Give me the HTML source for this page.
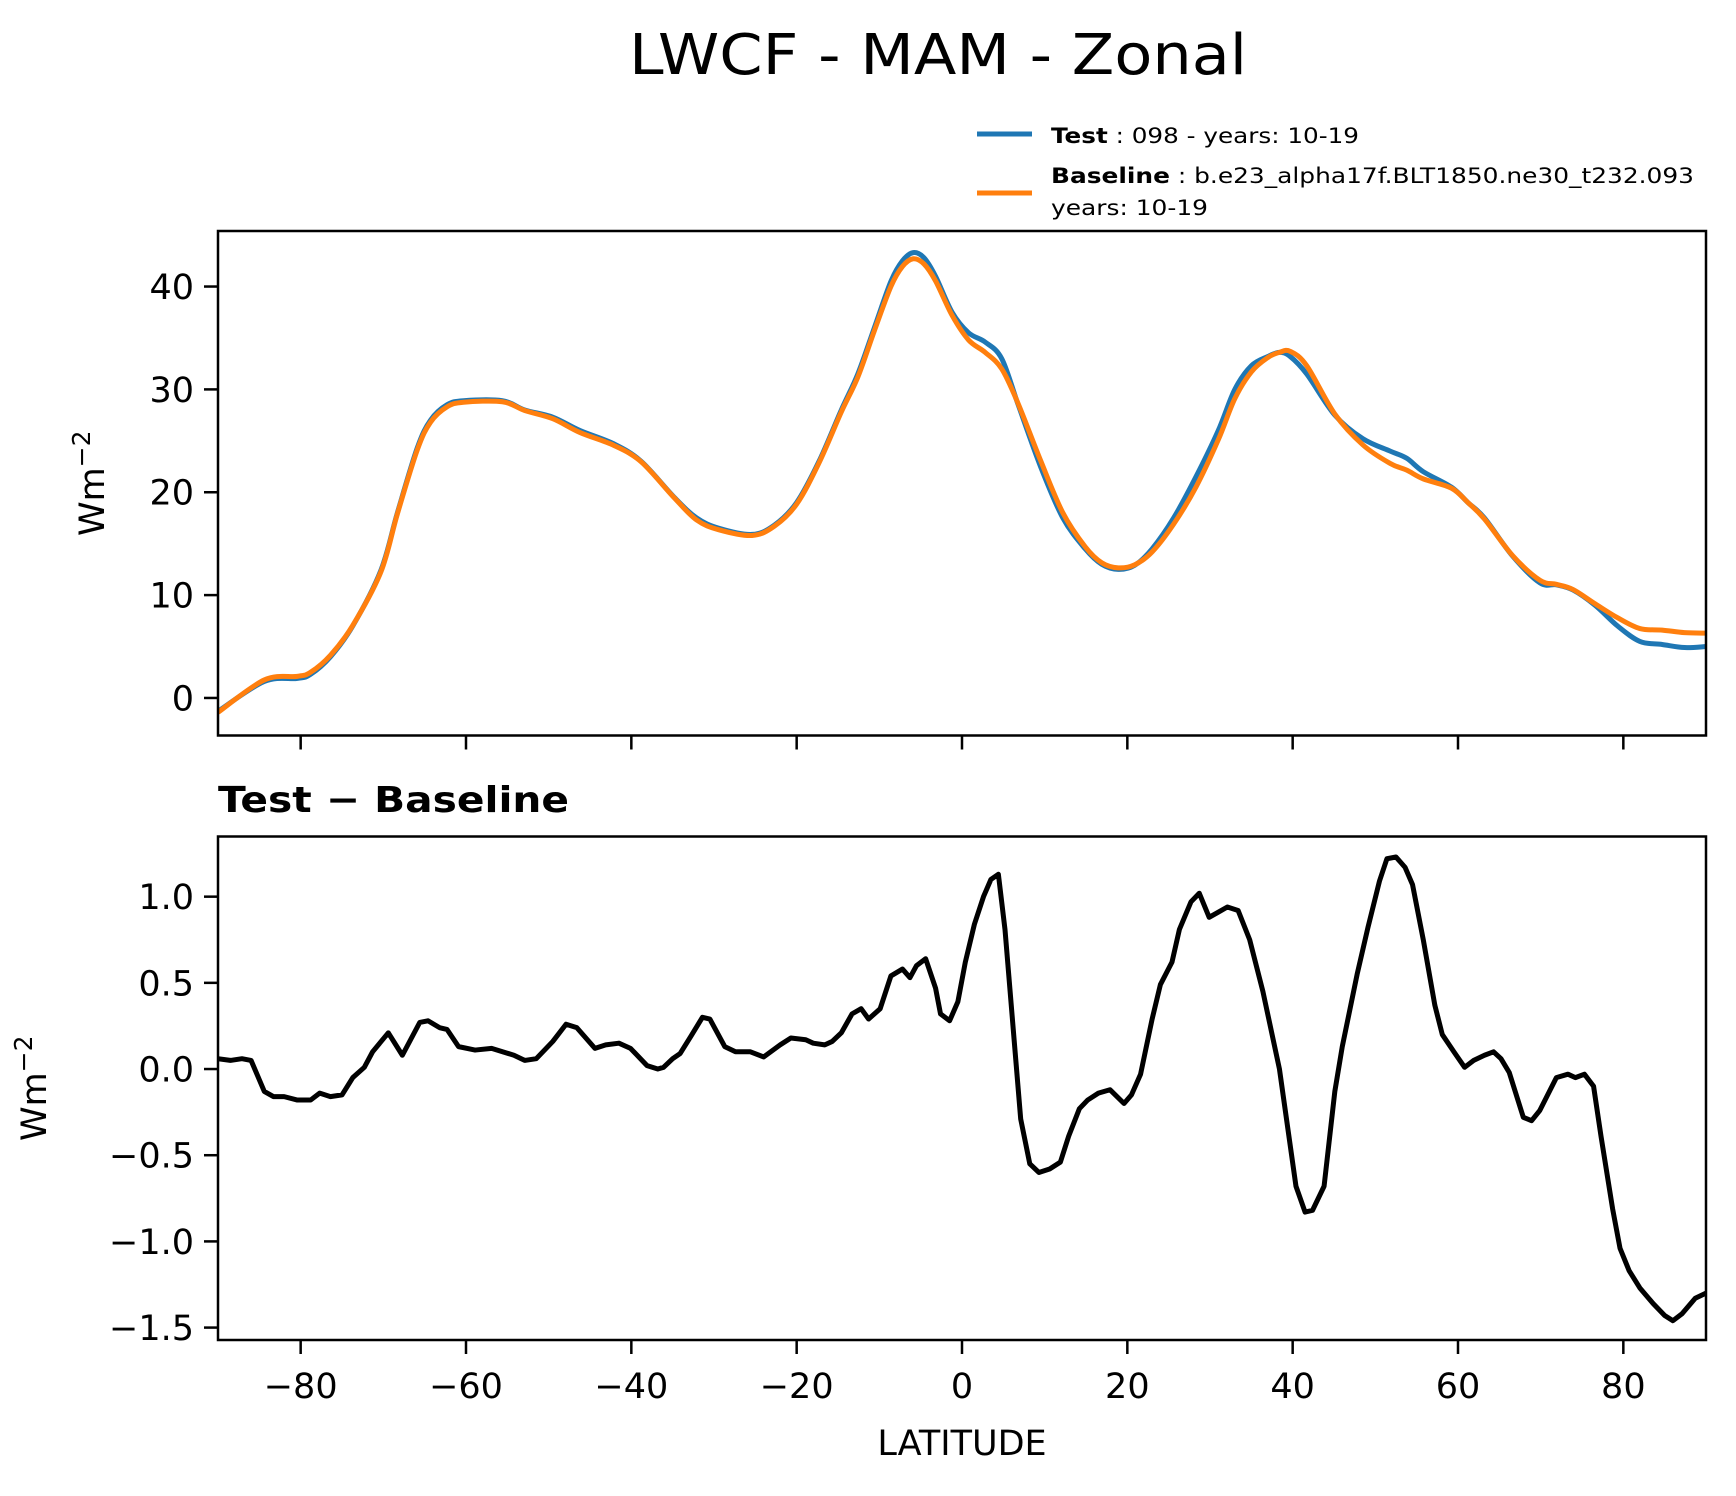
<!DOCTYPE html>
<html><head><meta charset="utf-8"><style>
html,body{margin:0;padding:0;background:#fff;}
svg{display:block;font-family:"DejaVu Sans","Liberation Sans",sans-serif;}
</style></head><body>
<svg id="fig" width="1736" height="1496" viewBox="0 0 1736 1496">
<rect width="1736" height="1496" fill="#fff"/>
<text x="938" y="74" font-size="56" text-anchor="middle" textLength="618" lengthAdjust="spacingAndGlyphs">LWCF - MAM - Zonal</text>
<g>
<line x1="977" y1="134" x2="1032" y2="134" stroke="#1f77b4" stroke-width="5"/>
<text x="1051" y="143" font-size="21" textLength="308" lengthAdjust="spacingAndGlyphs"><tspan font-weight="bold">Test</tspan> : 098 - years: 10-19</text>
<line x1="977" y1="193" x2="1032" y2="193" stroke="#ff7f0e" stroke-width="5"/>
<text x="1051" y="183" font-size="21" textLength="643" lengthAdjust="spacingAndGlyphs"><tspan font-weight="bold">Baseline</tspan> : b.e23_alpha17f.BLT1850.ne30_t232.093</text>
<text x="1051" y="215" font-size="21" textLength="157" lengthAdjust="spacingAndGlyphs">years: 10-19</text>
</g>
<g id="topPanel"></g>
<g id="botPanel"></g>
<text x="218" y="812" font-size="36" font-weight="bold" textLength="351" lengthAdjust="spacingAndGlyphs">Test − Baseline</text>
<text x="962" y="1455" font-size="35" text-anchor="middle">LATITUDE</text>
</svg>
<script>
const testLat=[-90,-84.4,-80.4,-78.8,-76.4,-73.7,-70.3,-68.3,-65.9,-64.3,-62.3,-60.3,-55.6,-52.9,-49.5,-46.2,-42.1,-38.8,-34.8,-32.1,-29.4,-25.4,-22.7,-20,-17.3,-14.6,-12.6,-10.6,-8.6,-7.2,-5.9,-4.6,-3.2,-1.2,0.8,2.8,4.8,6.8,9.5,12.2,14.9,16.9,18.9,20.9,23,25.6,28.3,31,33,35,37,38.4,39.7,41.7,45.1,48.5,51.8,53.8,55.8,59.2,61.2,63.2,66.6,69.9,71.9,73.9,76.6,79.3,82,84.7,87.4,90];
const testVals=[-1.3,1.6,1.9,2.3,4.0,7.0,12.4,18,24.3,27,28.5,28.9,28.9,28,27.3,26,24.7,23,19.5,17.5,16.5,15.9,16.8,19,23,28,31.5,36,40.5,42.5,43.3,42.8,41,37.5,35.5,34.6,33,28.5,22.5,17.5,14.5,13,12.5,12.9,14.5,17.5,21.5,26,30,32.3,33.2,33.6,33.2,31.5,27.5,25.2,24.0,23.3,22,20.5,19,17.5,13.8,11.2,11,10.5,9,7,5.5,5.2,4.9,5.0];
const baseVals=[-1.4,1.75,2.1,2.5,4.15,7.05,12.25,17.9,24.1,26.8,28.3,28.75,28.8,27.95,27.15,25.8,24.55,22.95,19.45,17.3,16.35,15.8,16.7,18.85,22.85,27.8,31.2,35.7,40.0,41.95,42.7,42.2,40.55,37.2,34.8,33.6,32.0,28.6,23.1,18.0,14.7,13.15,12.65,12.95,14.2,16.9,20.5,25.1,29.1,31.7,33.1,33.6,33.7,32.3,27.6,24.6,22.8,22.15,21.3,20.4,19.0,17.4,13.85,11.45,11.05,10.55,9.15,7.8,6.75,6.6,6.35,6.3];
const diffLat=[-90,-88.5,-87.1,-86,-84.4,-83.3,-82,-80.4,-78.8,-77.7,-76.4,-75,-73.7,-72.3,-71.3,-69.4,-67.7,-65.6,-64.6,-63.2,-62.3,-60.9,-58.9,-56.9,-54.2,-52.9,-51.5,-49.5,-47.9,-46.6,-44.4,-43.1,-41.5,-40.1,-38.1,-36.8,-36.1,-35,-34.1,-32.8,-31.4,-30.5,-28.7,-27.4,-25.6,-24,-22,-20.7,-18.9,-18,-16.6,-15.7,-14.6,-13.3,-12.2,-11.3,-9.9,-8.6,-7.2,-6.3,-5.5,-4.4,-3.2,-2.6,-1.5,-0.5,0.4,1.5,2.6,3.5,4.4,5.2,6.2,7.1,8.2,9.3,10.6,11.9,12.9,14.2,15.2,16.5,17.9,19.6,20.5,21.6,23,24,25.4,26.3,27.7,28.7,29.9,31,32.1,33.4,34.8,36.4,38.4,40.4,41.5,42.4,43.8,45.1,46,47.8,49.1,50.5,51.4,52.5,53.6,54.5,55.8,57.2,58.1,59.5,60.8,61.9,63.2,64.3,65.2,66.2,67.9,68.9,69.9,71.9,73.3,74.2,75.3,76.4,77.3,78.7,79.6,80.7,82,83.6,85,86,87.1,88.7,90];
const diffVals=[0.06,0.05,0.06,0.05,-0.13,-0.16,-0.16,-0.18,-0.18,-0.14,-0.16,-0.15,-0.05,0.01,0.1,0.21,0.08,0.27,0.28,0.24,0.23,0.13,0.11,0.12,0.08,0.05,0.06,0.16,0.26,0.24,0.12,0.14,0.15,0.12,0.02,0.0,0.01,0.06,0.09,0.19,0.3,0.29,0.13,0.1,0.1,0.07,0.14,0.18,0.17,0.15,0.14,0.16,0.21,0.32,0.35,0.29,0.35,0.54,0.58,0.53,0.6,0.64,0.47,0.32,0.28,0.39,0.62,0.84,1.0,1.1,1.13,0.81,0.23,-0.29,-0.55,-0.6,-0.58,-0.54,-0.39,-0.23,-0.18,-0.14,-0.12,-0.2,-0.15,-0.03,0.29,0.49,0.62,0.81,0.97,1.02,0.88,0.91,0.94,0.92,0.75,0.45,0.0,-0.68,-0.83,-0.82,-0.68,-0.13,0.13,0.55,0.82,1.09,1.22,1.23,1.17,1.07,0.75,0.37,0.2,0.1,0.01,0.05,0.08,0.1,0.06,-0.02,-0.28,-0.3,-0.24,-0.05,-0.03,-0.05,-0.03,-0.1,-0.39,-0.81,-1.04,-1.17,-1.27,-1.36,-1.43,-1.46,-1.42,-1.33,-1.3];
const xTicks=[-80,-60,-40,-20,0,20,40,60,80];
const topTicks=[0,10,20,30,40];
const topTickLabels=["0","10","20","30","40"];
const botTicks=[-1.5,-1.0,-0.5,0.0,0.5,1.0];
const botTickLabels=["\u22121.5","\u22121.0","\u22120.5","0.0","0.5","1.0"];

const NS="http://www.w3.org/2000/svg";
const L=218,R=1706;
const xs=v=>L+(v+90)/180*(R-L);
const T1=231,B1=735.5,ymin1=-3.65,ymax1=45.4;
const ys1=v=>B1-(v-ymin1)/(ymax1-ymin1)*(B1-T1);
const T2=836.5,B2=1340,ymin2=-1.572,ymax2=1.349;
const ys2=v=>B2-(v-ymin2)/(ymax2-ymin2)*(B2-T2);
function mk(tag,attrs,parent){const e=document.createElementNS(NS,tag);for(const k in attrs)e.setAttribute(k,attrs[k]);parent.appendChild(e);return e;}
function smooth(px,py){let d="M"+px[0]+","+py[0];for(let i=0;i<px.length-1;i++){const x0=px[Math.max(i-1,0)],y0=py[Math.max(i-1,0)],x1=px[i],y1=py[i],x2=px[i+1],y2=py[i+1],x3=px[Math.min(i+2,px.length-1)],y3=py[Math.min(i+2,px.length-1)];d+=" C"+(x1+(x2-x0)/6)+","+(y1+(y2-y0)/6)+" "+(x2-(x3-x1)/6)+","+(y2-(y3-y1)/6)+" "+x2+","+y2;}return d;}
function panel(g,T,B,ys,ticks,labels,showX,clipId,ylabX){
  const defs=mk('defs',{},g);const cp=mk('clipPath',{id:clipId},defs);mk('rect',{x:L,y:T,width:R-L,height:B-T},cp);
  xTicks.forEach((t)=>{const ln=mk('line',{x1:xs(t),x2:xs(t),y1:B,y2:B+14,stroke:'#000','stroke-width':2.5},g);
    
    
    if(showX){const tx=mk('text',{x:xs(t),y:B+58,'font-size':35,'text-anchor':'middle'},g);tx.textContent=(t<0?"\u2212":"")+Math.abs(t);
      
      }
  });
  ticks.forEach((t,i)=>{const ln=mk('line',{x1:L-14,x2:L,y1:ys(t),y2:ys(t),stroke:'#000','stroke-width':2.5},g);
    
    
    const tx=mk('text',{x:L-24,y:ys(t)+12.5,'font-size':35,'text-anchor':'end'},g);tx.textContent=labels[i];
    
    
  });
  const yl=mk('text',{x:ylabX,y:(T+B)/2,'font-size':35,'text-anchor':'middle',transform:'rotate(-90 '+ylabX+' '+(T+B)/2+')'},g);
  const t1=document.createElementNS(NS,'tspan');t1.textContent='Wm';yl.appendChild(t1);
  const t2=document.createElementNS(NS,'tspan');t2.setAttribute('dy','-14');t2.setAttribute('font-size','25');t2.textContent='\u22122';yl.appendChild(t2);
  
  
  return cp;
}
const topG=document.getElementById('topPanel'),botG=document.getElementById('botPanel');
panel(topG,T1,B1,ys1,topTicks,topTickLabels,false,'c1',104);
panel(botG,T2,B2,ys2,botTicks,botTickLabels,true,'c2',46);
const tp=mk('path',{d:smooth(testLat.map(xs),testVals.map(ys1)),fill:'none',stroke:'#1f77b4','stroke-width':5,'clip-path':'url(#c1)','stroke-linejoin':'round'},topG);


const bp=mk('path',{d:smooth(testLat.map(xs),baseVals.map(ys1)),fill:'none',stroke:'#ff7f0e','stroke-width':5,'clip-path':'url(#c1)','stroke-linejoin':'round'},topG);


const dp=mk('polyline',{points:diffLat.map((v,i)=>xs(v)+","+ys2(diffVals[i])).join(" "),fill:'none',stroke:'#000','stroke-width':5,'clip-path':'url(#c2)','stroke-linejoin':'round'},botG);


const f1=mk('rect',{x:L,y:T1,width:R-L,height:B1-T1,fill:'none',stroke:'#000','stroke-width':2.5},topG);


const f2=mk('rect',{x:L,y:T2,width:R-L,height:B2-T2,fill:'none',stroke:'#000','stroke-width':2.5},botG);


</script>
</body></html>
